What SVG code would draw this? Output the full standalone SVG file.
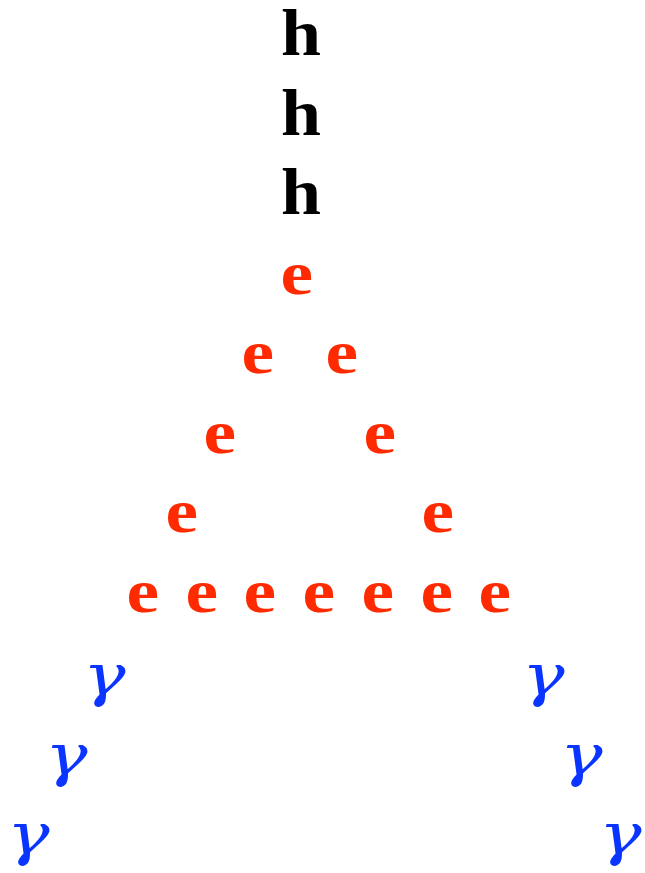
<svg xmlns="http://www.w3.org/2000/svg" width="645" height="873" viewBox="0 0 645 873">
<style>
.h{font-family:"Liberation Serif",serif;font-weight:bold;font-size:66px;fill:#000}
.e{font-family:"Liberation Serif",serif;font-weight:bold;font-size:62px;fill:#ff2a00}
.g{font-family:"DejaVu Serif",serif;font-style:italic;font-size:57px;fill:#0a34ff}
</style>
<rect width="645" height="873" fill="#fff"/>
<g id="hadrons">
<text class="h" transform="translate(281,55) scale(1.09,1)">h</text>
<text class="h" transform="translate(281,135) scale(1.09,1)">h</text>
<text class="h" transform="translate(281,214) scale(1.09,1)">h</text>
</g>
<g id="electrons">
<text class="e" transform="translate(280.5,294) scale(1.18,1)">e</text>
<text class="e" transform="translate(241.5,373) scale(1.18,1)">e</text>
<text class="e" transform="translate(325.5,373) scale(1.18,1)">e</text>
<text class="e" transform="translate(203.5,453) scale(1.18,1)">e</text>
<text class="e" transform="translate(363.5,453) scale(1.18,1)">e</text>
<text class="e" transform="translate(165.5,532) scale(1.18,1)">e</text>
<text class="e" transform="translate(421.5,532) scale(1.18,1)">e</text>
<text class="e" transform="translate(126.5,612) scale(1.18,1)">e</text>
<text class="e" transform="translate(185.5,612) scale(1.18,1)">e</text>
<text class="e" transform="translate(243.5,612) scale(1.18,1)">e</text>
<text class="e" transform="translate(302.5,612) scale(1.18,1)">e</text>
<text class="e" transform="translate(361.5,612) scale(1.18,1)">e</text>
<text class="e" transform="translate(420.5,612) scale(1.18,1)">e</text>
<text class="e" transform="translate(478.5,612) scale(1.18,1)">e</text>
</g>
<g id="photons">
<text class="g" transform="translate(83,695) scale(1.25,1)">γ</text>
<text class="g" transform="translate(45,775) scale(1.25,1)">γ</text>
<text class="g" transform="translate(7,854) scale(1.25,1)">γ</text>
<text class="g" transform="translate(522,695) scale(1.25,1)">γ</text>
<text class="g" transform="translate(560,775) scale(1.25,1)">γ</text>
<text class="g" transform="translate(599,854) scale(1.25,1)">γ</text>
</g>
</svg>
